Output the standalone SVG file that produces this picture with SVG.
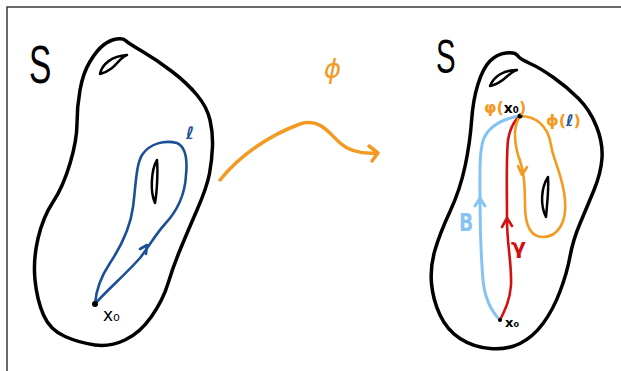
<svg xmlns="http://www.w3.org/2000/svg" width="621" height="371" viewBox="0 0 621 371">
<style>
.frame{stroke:#3a3a3a;stroke-width:1.5;fill:none}
.blob{fill:none;stroke:#000;stroke-width:3.5;stroke-linecap:round;stroke-linejoin:round}
.hole{fill:none;stroke:#000;stroke-width:2.5;stroke-linecap:round;stroke-linejoin:round}
.path{fill:none;stroke-width:2.6;stroke-linecap:round;stroke-linejoin:round}
.dk{stroke:#1b4f96}
.lb{stroke:#86c3f2}
.rd{stroke:#d40f0f}
.or{stroke:#f39a22}
.big{font-family:"Liberation Sans","DejaVu Sans",sans-serif;font-size:54px}
.lab{font-family:"DejaVu Sans","Liberation Sans",sans-serif;font-weight:bold}
</style>
<path class="frame" d="M7,371 L7,7 L621,7"/>

<g id="left-surface">
<text class="big" transform="translate(29,83) scale(0.62,1)">S</text>
<path class="blob" d="M116.5,39 Q123,38 125.5,40.5 Q128,43 142.5,51.5 Q157,60 172,71.5 Q187,83 197,95 Q207,107 210,120 Q213,133 212.5,146.5 Q212,160 209.5,173.5 Q207,187 197,210 Q187,233 180,250 Q173,267 168,283.5 Q163,300 151.5,316.5 Q140,333 125,340 Q110,347 95,345 Q80,343 65,336.5 Q50,330 43.5,315 Q37,300 35,280 Q33,260 38,238.5 Q43,217 53,202 Q63,187 70,163.5 Q77,140 77,123.5 Q77,107 80,90 Q83,73 90,61.5 Q97,50 103.5,45 Q110,40 116.5,39 Z"/>
<path class="hole" d="M100,74 C102,64 112,56 127,55 C118,58 117,69 100,74 Z"/>
<path class="hole" d="M157,160 C151,170 150,192 155,203 C157,192 158,172 157,160"/>
</g>

<g id="loop-l">
<path class="path dk" d="M95,304 C96,290 100,278 110,263 C120,248 130,230 133,207 C136,184 136,165 142,155 C150,143 165,140 177,143 C188,148 187,165 186,175 C185,195 178,210 165,224 C155,235 148,248 140,258 C125,275 105,292 95,304"/>
<path class="path dk" d="M140,249 L147,245 L146,254"/>
<text class="lab" x="186" y="139" font-size="17" fill="#1b4f96">ℓ</text>
</g>

<g id="x0-left">
<circle cx="95" cy="304" r="3" fill="#000"/>
<text x="103" y="321" font-family="DejaVu Sans, sans-serif" font-size="17" fill="#000">x₀</text>
</g>

<g id="connectors">
<path class="path or" style="stroke-width:3.5" d="M220,180 C240,155 270,135 300,124 C320,118 328,132 340,143 C350,152 362,154 377,153"/>
<path class="path or" style="stroke-width:3.5" d="M369,146 L378,153 L372,161"/>
</g>

<g id="phi-label">
<text x="324" y="78" font-family="DejaVu Sans, sans-serif" font-size="26" font-style="italic" fill="#f39a22">ϕ</text>
</g>

<g id="right-surface">
<text class="big" transform="translate(436,73) scale(0.6,1)" style="font-size:49px">S</text>
<path class="blob" d="M490,61 Q497,54 506,53 Q515,52 517.5,55.5 Q520,59 530,63.5 Q540,68 553.5,77.5 Q567,87 578.5,98.5 Q590,110 596.5,126.5 Q603,143 602,158 Q601,173 594,190 Q587,207 580,223.5 Q573,240 570,256.5 Q567,273 560,291.5 Q553,310 543,323.5 Q533,337 520,343.5 Q507,350 490,348.5 Q473,347 460,338.5 Q447,330 440,315 Q433,300 431.5,283.5 Q430,267 435,250 Q440,233 450,211.5 Q460,190 465,166.5 Q470,143 471.5,121.5 Q473,100 478,84 Q483,68 490,61 Z"/>
<path class="hole" d="M490,86 C494,76 504,70 517,70 C508,72 505,83 490,86 Z"/>
<path class="hole" d="M548,177 C541,188 540,205 546,217 C547,205 549,190 548,177"/>
</g>

<g id="path-beta">
<path class="path lb" style="stroke-width:3" d="M500,320 C492,312 485,300 483,280 C481,255 480,230 480,200 C480,175 479,150 484,138 C490,125 505,118 520,116"/>
<path class="path lb" style="stroke-width:3" d="M475,206 L480,198 L485,206"/>
<text class="lab" transform="translate(459,231) scale(0.75,1)" font-size="25" fill="#86c3f2">B</text>
</g>

<g id="path-gamma">
<path class="path rd" d="M500,320 C505,310 510,300 511,285 C512,265 507,245 507,220 C507,190 506,160 508,140 C510,128 515,120 520,116"/>
<path class="path rd" d="M502,227 L507,218 L512,226"/>
<text class="lab" x="511" y="254" font-size="22" fill="#d40f0f">γ</text>
</g>

<g id="loop-phi-l">
<path class="path or" d="M520,116 C535,116 548,125 551,145 C553,160 563,175 565,200 C567,222 558,237 543,237 C530,237 525,225 525,205 C525,185 524,170 518,155 C514,140 514,125 520,116"/>
<path class="path or" d="M518,166 L522,175 L527,167"/>
<text class="lab" x="546" y="126" font-size="16" fill="#f39a22">ϕ(<tspan fill="#1b4f96">ℓ</tspan>)</text>
</g>

<g id="phi-x0">
<circle cx="520" cy="116" r="2.5" fill="#000"/>
<text class="lab" x="484" y="113" font-size="16" fill="#f39a22">φ(<tspan fill="#000" font-size="14">x₀</tspan>)</text>
</g>

<g id="x0-right">
<circle cx="500" cy="320" r="2" fill="#000"/>
<text class="lab" x="505" y="327" font-size="13" fill="#000">x₀</text>
</g>
</svg>
